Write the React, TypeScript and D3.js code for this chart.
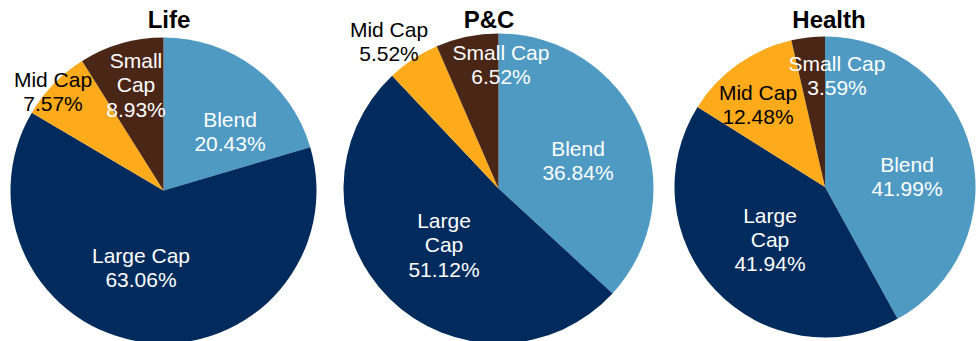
import React from "react";
import * as d3 from "d3";

const categories = ["Blend", "Large Cap", "Mid Cap", "Small Cap"];
const lifeValues = [20.43, 63.06, 7.57, 8.93];
const pcValues = [36.84, 51.12, 5.52, 6.52];
const healthValues = [41.99, 41.94, 12.48, 3.59];
const titles = ["Life", "P&C", "Health"];

// label lines per category for each pie
const lifeLabelLines = [["Blend"], ["Large Cap"], ["Mid Cap"], ["Small", "Cap"]];
const pcLabelLines = [["Blend"], ["Large", "Cap"], ["Mid Cap"], ["Small Cap"]];
const healthLabelLines = [["Blend"], ["Large", "Cap"], ["Mid Cap"], ["Small Cap"]];

const colors = ["#4E9AC3", "#002B5C", "#FDAA1B", "#4A2616"];
const textColors = ["#FFFFFF", "#FFFFFF", "#000000", "#FFFFFF"];

// layout (positions only)
const layout = [
  {
    cx: 163.5, cy: 190.5, r: 153, titleX: 169, titleY: 28,
    // first-line baseline positions of labels, x = center of text
    labels: [[230, 126.5], [141, 263], [53, 87], [136, 68]],
  },
  {
    cx: 498.5, cy: 188.5, r: 155, titleX: 489, titleY: 28,
    labels: [[578, 156], [444, 228], [389, 36.5], [501, 59.5]],
  },
  {
    cx: 825, cy: 187, r: 150.5, titleX: 829, titleY: 28,
    labels: [[907, 171.5], [770, 222.5], [758, 100], [837, 70.5]],
  },
];

const seriesValues = [lifeValues, pcValues, healthValues];
const labelLines = [lifeLabelLines, pcLabelLines, healthLabelLines];

const FONT = "'Liberation Sans', Arial, Helvetica, sans-serif";
const LINE_H = 24.3;

export default function App() {
  const pie = d3
    .pie<number>()
    .sort(null)
    .value((d) => d)
    .startAngle(0)
    .endAngle(2 * Math.PI);

  return (
    <svg
      width={976}
      height={341}
      style={{ position: "absolute", left: 0, top: 0, display: "block", background: "#fff" }}
    >
      {seriesValues.map((vals, pi) => {
        const L = layout[pi];
        const arc = d3.arc<d3.PieArcDatum<number>>().innerRadius(0).outerRadius(L.r);
        const arcs = pie(vals);
        return (
          <g key={pi}>
            <g transform={`translate(${L.cx},${L.cy})`}>
              {arcs.map((a, i) => (
                <path key={i} d={arc(a) || ""} fill={colors[i]} />
              ))}
            </g>
            <text
              x={L.titleX}
              y={L.titleY}
              textAnchor="middle"
              fontFamily={FONT}
              fontWeight="bold"
              fontSize={24}
              fill="#000"
            >
              {titles[pi]}
            </text>
            {arcs.map((a, i) => {
              const [lx, ly] = L.labels[i];
              const lines = [...labelLines[pi][i], `${vals[i].toFixed(2)}%`];
              return (
                <text
                  key={i}
                  x={lx}
                  y={ly}
                  textAnchor="middle"
                  fontFamily={FONT}
                  fontSize={21}
                  fill={textColors[i]}
                >
                  {lines.map((t, k) => (
                    <tspan key={k} x={lx} y={ly + k * LINE_H}>
                      {t}
                    </tspan>
                  ))}
                </text>
              );
            })}
          </g>
        );
      })}
    </svg>
  );
}
